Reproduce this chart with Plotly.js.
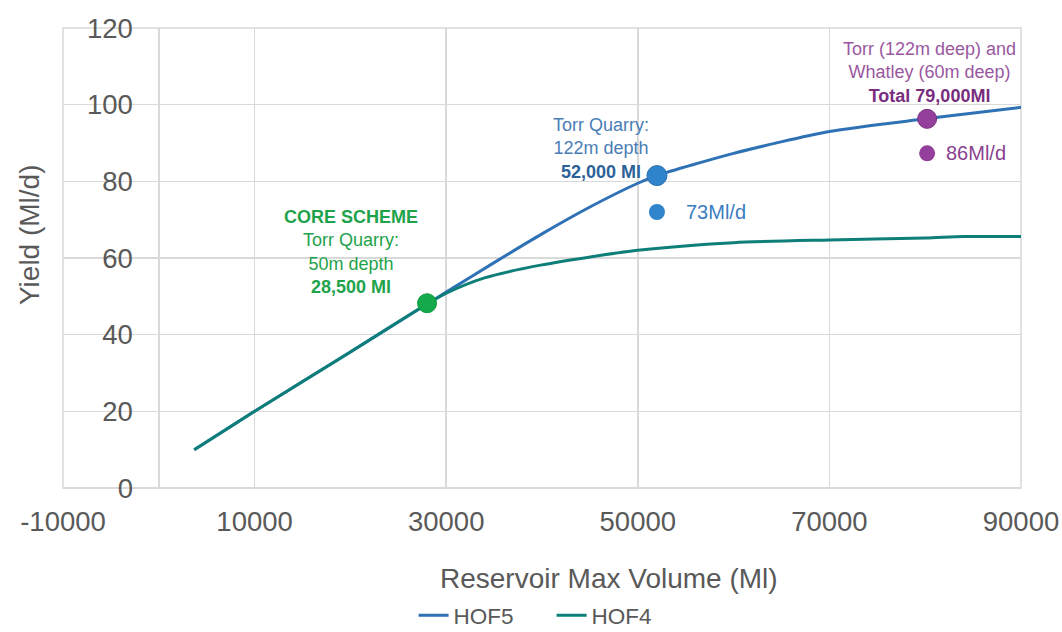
<!DOCTYPE html>
<html>
<head>
<meta charset="utf-8">
<script src="https://cdn.plot.ly/plotly-3.0.1.min.js"></script>
<style>html,body{margin:0;padding:0;background:#fff;}#chart{width:1062px;height:632px;}</style>
</head>
<body>
<div id="chart"></div>
<script>
// Series data
const hof5X = [3700, 10000, 20000, 28000, 30000, 35000, 40000, 45000, 50000, 52000, 60000, 70000, 80000, 90000];
const hof5Y = [10, 20, 35.5, 48, 51.1, 58.8, 66.3, 73.3, 79.5, 81.5, 87.3, 93, 96.3, 99.3];
const hof4X = [3700, 10000, 20000, 28000, 30000, 34000, 40000, 50000, 60000, 70000, 80000, 84000, 90000];
const hof4Y = [10, 20, 35.5, 48, 50.8, 54.8, 58.2, 62, 64, 64.7, 65.2, 65.6, 65.6];

// Highlighted scheme points
const coreX = [28000], coreY = [48.2];
const torrX = [52000], torrY = [81.5];
const torrYieldX = [52000], torrYieldY = [72];
const totalX = [80200], totalY = [96.3];
const totalYieldX = [80200], totalYieldY = [87.3];

// Tick labels
const xTickVals = [-10000, 10000, 30000, 50000, 70000, 90000];
const xTickText = ["-10000", "10000", "30000", "50000", "70000", "90000"];
const yTickVals = [0, 20, 40, 60, 80, 100, 120];

const FONT = "Liberation Sans, Arial, sans-serif";
const GRID = "#d9d9d9";
const TXT = "#595959";

const traces = [
  {x: hof5X, y: hof5Y, name: "HOF5", mode: "lines", line: {color: "#2e72b5", width: 3, shape: "spline", smoothing: 0.7}},
  {x: hof4X, y: hof4Y, name: "HOF4", mode: "lines", line: {color: "#0d7f78", width: 3, shape: "spline", smoothing: 0.7}},
  {x: coreX, y: coreY, mode: "markers", showlegend: false, marker: {color: "#14a94a", size: 19, line: {color: "#0f9a40", width: 1}}},
  {x: torrX, y: torrY, mode: "markers", showlegend: false, marker: {color: "#2f84cb", size: 20, line: {color: "#2a6fae", width: 1}}},
  {x: torrYieldX, y: torrYieldY, mode: "markers", showlegend: false, marker: {color: "#2f84cb", size: 16}},
  {x: totalX, y: totalY, mode: "markers", showlegend: false, marker: {color: "#953f9c", size: 19, line: {color: "#7a2f80", width: 1}}},
  {x: totalYieldX, y: totalYieldY, mode: "markers", showlegend: false, marker: {color: "#953f9c", size: 16}}
];

const layout = {
  width: 1062, height: 632,
  margin: {l: 63, r: 41, t: 28, b: 144, autoexpand: false},
  paper_bgcolor: "#ffffff", plot_bgcolor: "#ffffff",
  font: {family: FONT, color: TXT},
  showlegend: true,
  legend: {orientation: "h", x: 0.51, xanchor: "center", y: -0.324, yanchor: "bottom",
           font: {size: 22.5, color: TXT}, entrywidth: 93, entrywidthmode: "pixels", tracegroupgap: 0},
  xaxis: {
    range: [-10000, 90000], tickvals: xTickVals, ticktext: xTickText,
    showgrid: true, gridcolor: GRID, gridwidth: 1.5,
    zeroline: true, zerolinecolor: GRID, zerolinewidth: 1.5,
    showline: false, ticks: "", ticklabelstandoff: 14,
    tickfont: {size: 27.5, color: TXT},
    automargin: false
  },
  yaxis: {
    range: [0, 120], tickvals: yTickVals, anchor: "free", position: 0.073,
    showgrid: true, gridcolor: GRID, gridwidth: 1.5,
    zeroline: true, zerolinecolor: GRID, zerolinewidth: 1.5,
    showline: false, ticks: "", ticklabelstandoff: 0,
    tickfont: {size: 27.5, color: TXT},
    automargin: false
  },
  shapes: [
    {type: "rect", xref: "paper", yref: "paper", x0: 0, x1: 1, y0: 0, y1: 1,
     line: {color: GRID, width: 1.5}, layer: "below"}
  ],
  annotations: [
    {x: 0.570, y: -0.1957, xref: "paper", yref: "paper", showarrow: false, xanchor: "center", yanchor: "middle",
     font: {size: 28, color: TXT}, text: "Reservoir Max Volume (Ml)"},
    {x: -0.0344, y: 0.55, xref: "paper", yref: "paper", showarrow: false, xanchor: "center", yanchor: "middle",
     textangle: -90, font: {size: 28, color: TXT}, text: "Yield (Ml/d)"},
    {x: 20100, y: 61.5, xref: "x", yref: "y", showarrow: false, align: "center", xanchor: "center", yanchor: "middle",
     font: {size: 18, color: "#1ea34b"},
     text: "<b>CORE SCHEME</b><br>Torr Quarry:<br>50m depth<br><b>28,500 Ml</b>"},
    {x: 46200, y: 88.6, xref: "x", yref: "y", showarrow: false, align: "center", xanchor: "center", yanchor: "middle",
     font: {size: 18, color: "#4a7db6"},
     text: "Torr Quarry:<br>122m depth<br><b><span style=\"color:#2d6299\">52,000 Ml</span></b>"},
    {x: 80500, y: 108.3, xref: "x", yref: "y", showarrow: false, align: "center", xanchor: "center", yanchor: "middle",
     font: {size: 18, color: "#9a58a1"},
     text: "Torr (122m deep) and<br>Whatley (60m deep)<br><b><span style=\"color:#782d7e\">Total 79,000Ml</span></b>"},
    {x: 54800, y: 72, xref: "x", yref: "y", showarrow: false, xanchor: "left", yanchor: "middle",
     font: {size: 20, color: "#3a7dbf"}, text: "73Ml/d"},
    {x: 82000, y: 87.4, xref: "x", yref: "y", showarrow: false, xanchor: "left", yanchor: "middle",
     font: {size: 20, color: "#8a3f90"}, text: "86Ml/d"}
  ]
};

Plotly.newPlot("chart", traces, layout, {displayModeBar: false, staticPlot: true});
</script>
</body>
</html>
